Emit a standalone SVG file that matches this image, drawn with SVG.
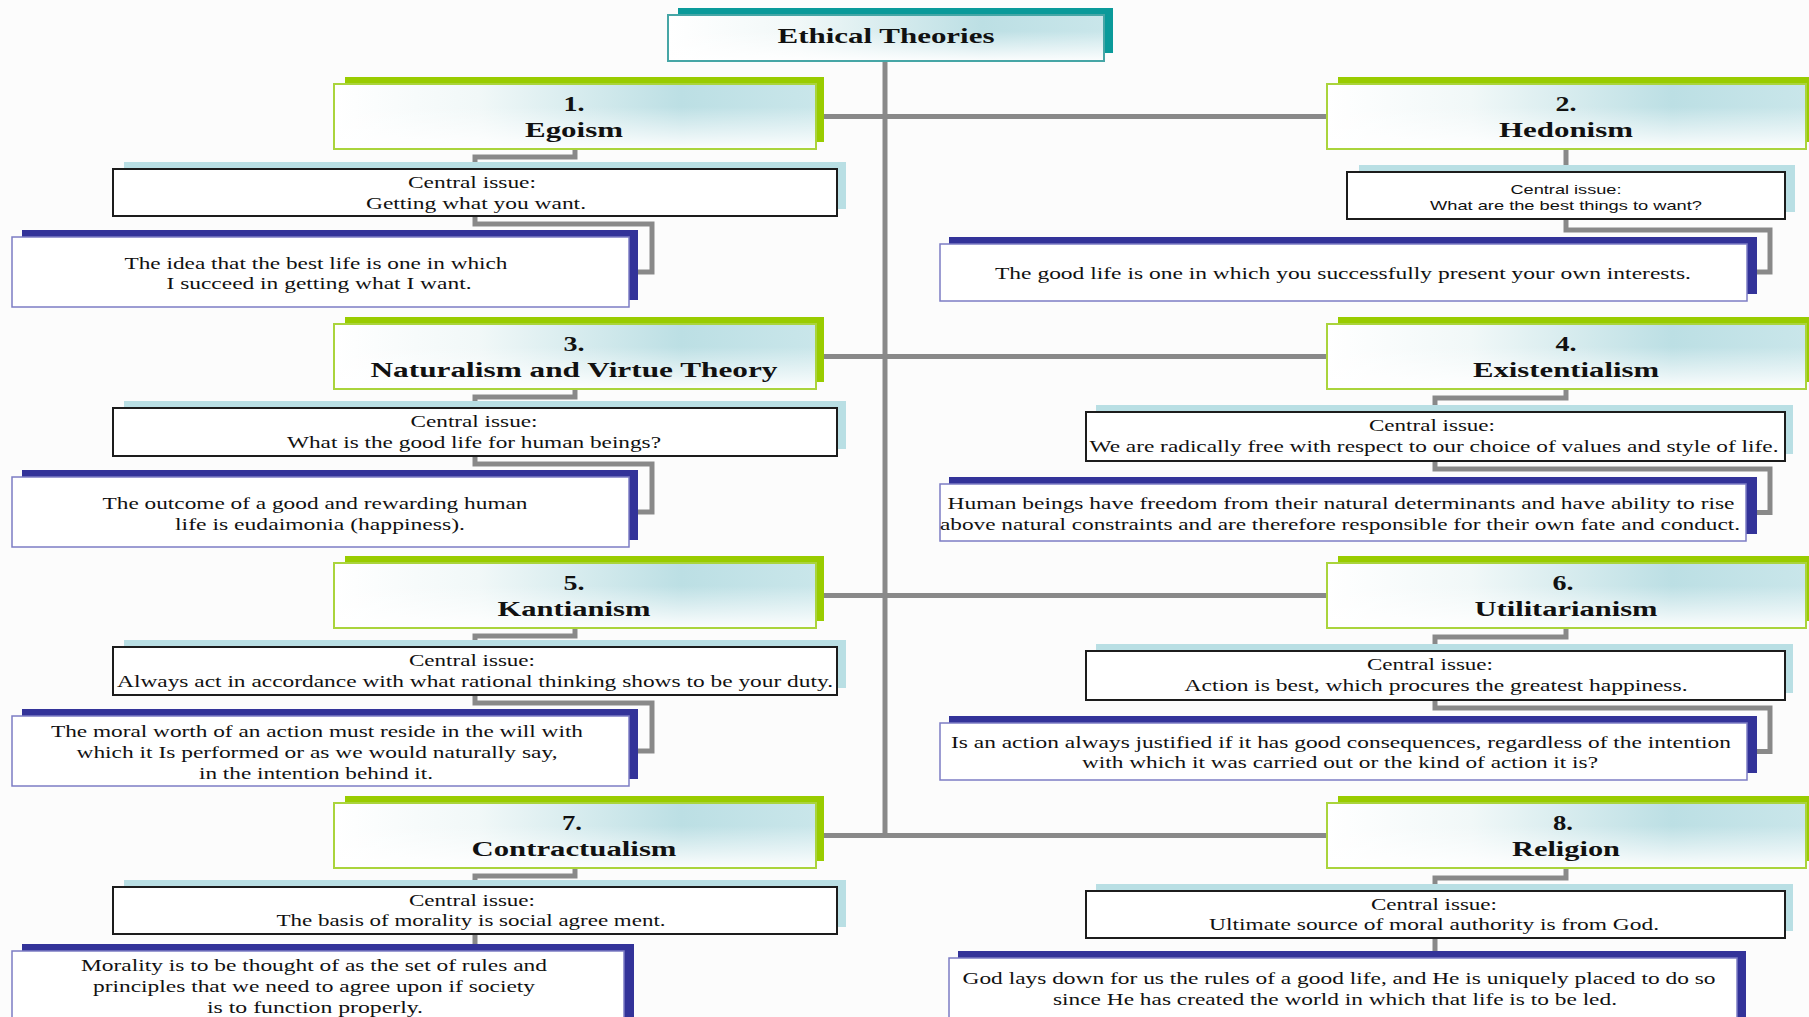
<svg xmlns="http://www.w3.org/2000/svg" width="1809" height="1017" viewBox="0 0 1809 1017">
  <defs>
    <linearGradient id="glaze" x1="0" y1="0" x2="1" y2="0">
      <stop offset="0" stop-color="#ffffff"/>
      <stop offset="0.3" stop-color="#f1f8f8"/>
      <stop offset="0.72" stop-color="#bcdfe4"/>
      <stop offset="1" stop-color="#c9e6ea"/>
    </linearGradient>
    <linearGradient id="fade" x1="0" y1="0" x2="0" y2="1">
      <stop offset="0.35" stop-color="#ffffff" stop-opacity="0"/>
      <stop offset="1" stop-color="#ffffff" stop-opacity="0.95"/>
    </linearGradient>
    <style>
      .bg { fill: #fcfcfc; }
      .wire { fill: none; stroke: #898989; stroke-width: 5; stroke-linejoin: miter; }
      .title-back { fill: #0a9a9a; }
      .title-edge { fill: none; stroke: #46a6a6; stroke-width: 2; }
      .hd-back { fill: #99cc00; }
      .hd-edge { fill: none; stroke: #aad43c; stroke-width: 2; }
      .glaze { fill: url(#glaze); }
      .fade { fill: url(#fade); }
      .ci-back { fill: #b9dfe4; }
      .ci { fill: #ffffff; stroke: #1c1c1c; stroke-width: 2; }
      .dt-back { fill: #333399; }
      .dt { fill: #ffffff; stroke: #7c7cc4; stroke-width: 1.5; }
      text { font-family: "Liberation Serif", "Times New Roman", serif; fill: #111111; text-anchor: middle; }
      .t-title { font-size: 21px; font-weight: bold; }
      .t-hd { font-size: 20px; font-weight: bold; }
      .t-num { font-size: 21px; font-weight: bold; }
      .t-ci { font-size: 16px; }
      .t-ci-sans { font-family: "Liberation Sans", Arial, sans-serif; font-size: 13px; }
      .t-dt { font-size: 17px; }
    </style>
  </defs>

  <rect class="bg" x="0" y="0" width="1809" height="1017"/>

  <!-- connectors: trunk, branches and elbows -->
  <g id="connectors">
    <path class="wire" d="M885,61 V836"/>
    <path class="wire" d="M816,116.5 H1327"/>
    <path class="wire" d="M816,356.5 H1327"/>
    <path class="wire" d="M816,595.5 H1327"/>
    <path class="wire" d="M816,835.5 H1327"/>
    <!-- left column -->
    <path class="wire" d="M575,149 V157 H475 V169"/>
    <path class="wire" d="M475,216 V224 H652 V272 H638"/>
    <path class="wire" d="M575,389 V397 H475 V408"/>
    <path class="wire" d="M475,456 V464 H652 V512 H638"/>
    <path class="wire" d="M575,628 V636 H475 V647"/>
    <path class="wire" d="M475,695 V703 H652 V751 H638"/>
    <path class="wire" d="M575,868 V876 H475 V887"/>
    <path class="wire" d="M475,934 V945"/>
    <!-- right column -->
    <path class="wire" d="M1566,149 V172"/>
    <path class="wire" d="M1566,219 V230 H1770 V272 H1757"/>
    <path class="wire" d="M1566,389 V398 H1435 V412"/>
    <path class="wire" d="M1435,461 V469 H1770 V512.5 H1757"/>
    <path class="wire" d="M1566,628 V637 H1435 V651"/>
    <path class="wire" d="M1435,700 V708 H1770 V751.5 H1757"/>
    <path class="wire" d="M1566,868 V878 H1435 V891"/>
    <path class="wire" d="M1435,938 V952"/>
  </g>

  <!-- root -->
  <g id="node-title">
    <rect class="title-back" x="678" y="8" width="435" height="45"/>
    <rect class="glaze" x="668" y="15" width="436" height="46"/>
    <rect class="fade" x="668" y="15" width="436" height="46"/>
    <rect class="title-edge" x="668" y="15" width="436" height="46"/>
    <text class="t-title" x="886" y="43" textLength="217" lengthAdjust="spacingAndGlyphs">Ethical Theories</text>
  </g>

  <!-- 1. Egoism -->
  <g id="node-egoism">
    <rect class="hd-back" x="345" y="77" width="479" height="65"/>
    <rect class="glaze" x="334" y="84" width="482" height="65"/>
    <rect class="fade" x="334" y="84" width="482" height="65"/>
    <rect class="hd-edge" x="334" y="84" width="482" height="65"/>
    <text class="t-num" x="574" y="111" textLength="21" lengthAdjust="spacingAndGlyphs">1.</text>
    <text class="t-hd" x="574" y="137" textLength="98" lengthAdjust="spacingAndGlyphs">Egoism</text>
  </g>
  <g id="issue-egoism">
    <rect class="ci-back" x="124" y="162" width="722" height="47"/>
    <rect class="ci" x="113" y="169" width="724" height="47"/>
    <text class="t-ci" x="472" y="188" textLength="128" lengthAdjust="spacingAndGlyphs">Central issue:</text>
    <text class="t-ci" x="476" y="209" textLength="220" lengthAdjust="spacingAndGlyphs">Getting what you want.</text>
  </g>
  <g id="detail-egoism">
    <rect class="dt-back" x="22" y="230" width="616" height="70"/>
    <rect class="dt" x="12" y="237" width="617" height="70"/>
    <text class="t-dt" x="316" y="269" textLength="383" lengthAdjust="spacingAndGlyphs">The idea that the best life is one in which</text>
    <text class="t-dt" x="319" y="289" textLength="305" lengthAdjust="spacingAndGlyphs">I succeed in getting what I want.</text>
  </g>

  <!-- 2. Hedonism -->
  <g id="node-hedonism">
    <rect class="hd-back" x="1338" y="77" width="480" height="65"/>
    <rect class="glaze" x="1327" y="84" width="479" height="65"/>
    <rect class="fade" x="1327" y="84" width="479" height="65"/>
    <rect class="hd-edge" x="1327" y="84" width="479" height="65"/>
    <text class="t-num" x="1566" y="111" textLength="21" lengthAdjust="spacingAndGlyphs">2.</text>
    <text class="t-hd" x="1566" y="137" textLength="134" lengthAdjust="spacingAndGlyphs">Hedonism</text>
  </g>
  <g id="issue-hedonism">
    <rect class="ci-back" x="1359" y="165" width="436" height="47"/>
    <rect class="ci" x="1347" y="172" width="438" height="47"/>
    <text class="t-ci-sans" x="1566" y="194" textLength="111" lengthAdjust="spacingAndGlyphs">Central issue:</text>
    <text class="t-ci-sans" x="1566" y="210" textLength="272" lengthAdjust="spacingAndGlyphs">What are the best things to want?</text>
  </g>
  <g id="detail-hedonism">
    <rect class="dt-back" x="949" y="237" width="808" height="57"/>
    <rect class="dt" x="940" y="244" width="807" height="57"/>
    <text class="t-dt" x="1343" y="279" textLength="696" lengthAdjust="spacingAndGlyphs">The good life is one in which you successfully present your own interests.</text>
  </g>

  <!-- 3. Naturalism and Virtue Theory -->
  <g id="node-naturalism">
    <rect class="hd-back" x="345" y="317" width="479" height="65"/>
    <rect class="glaze" x="334" y="324" width="482" height="65"/>
    <rect class="fade" x="334" y="324" width="482" height="65"/>
    <rect class="hd-edge" x="334" y="324" width="482" height="65"/>
    <text class="t-num" x="574" y="351" textLength="21" lengthAdjust="spacingAndGlyphs">3.</text>
    <text class="t-hd" x="574" y="377" textLength="407" lengthAdjust="spacingAndGlyphs">Naturalism and Virtue Theory</text>
  </g>
  <g id="issue-naturalism">
    <rect class="ci-back" x="124" y="401" width="722" height="48"/>
    <rect class="ci" x="113" y="408" width="724" height="48"/>
    <text class="t-ci" x="474" y="427" textLength="127" lengthAdjust="spacingAndGlyphs">Central issue:</text>
    <text class="t-ci" x="474" y="448" textLength="374" lengthAdjust="spacingAndGlyphs">What is the good life for human beings?</text>
  </g>
  <g id="detail-naturalism">
    <rect class="dt-back" x="22" y="470" width="616" height="70"/>
    <rect class="dt" x="12" y="477" width="617" height="70"/>
    <text class="t-dt" x="315" y="509" textLength="425" lengthAdjust="spacingAndGlyphs">The outcome of a good and rewarding human</text>
    <text class="t-dt" x="320" y="530" textLength="290" lengthAdjust="spacingAndGlyphs">life is eudaimonia (happiness).</text>
  </g>

  <!-- 4. Existentialism -->
  <g id="node-existentialism">
    <rect class="hd-back" x="1338" y="317" width="480" height="65"/>
    <rect class="glaze" x="1327" y="324" width="479" height="65"/>
    <rect class="fade" x="1327" y="324" width="479" height="65"/>
    <rect class="hd-edge" x="1327" y="324" width="479" height="65"/>
    <text class="t-num" x="1566" y="351" textLength="21" lengthAdjust="spacingAndGlyphs">4.</text>
    <text class="t-hd" x="1566" y="377" textLength="186" lengthAdjust="spacingAndGlyphs">Existentialism</text>
  </g>
  <g id="issue-existentialism">
    <rect class="ci-back" x="1096" y="405" width="697" height="49"/>
    <rect class="ci" x="1086" y="412" width="699" height="49"/>
    <text class="t-ci" x="1432" y="431" textLength="126" lengthAdjust="spacingAndGlyphs">Central issue:</text>
    <text class="t-ci" x="1434" y="452" textLength="689" lengthAdjust="spacingAndGlyphs">We are radically free with respect to our choice of values and style of life.</text>
  </g>
  <g id="detail-existentialism">
    <rect class="dt-back" x="949" y="477" width="808" height="57"/>
    <rect class="dt" x="940" y="484" width="806" height="57"/>
    <text class="t-dt" x="1341" y="509" textLength="787" lengthAdjust="spacingAndGlyphs">Human beings have freedom from their natural determinants and have ability to rise</text>
    <text class="t-dt" x="1340" y="530" textLength="800" lengthAdjust="spacingAndGlyphs">above natural constraints and are therefore responsible for their own fate and conduct.</text>
  </g>

  <!-- 5. Kantianism -->
  <g id="node-kantianism">
    <rect class="hd-back" x="345" y="556" width="479" height="65"/>
    <rect class="glaze" x="334" y="563" width="482" height="65"/>
    <rect class="fade" x="334" y="563" width="482" height="65"/>
    <rect class="hd-edge" x="334" y="563" width="482" height="65"/>
    <text class="t-num" x="574" y="590" textLength="21" lengthAdjust="spacingAndGlyphs">5.</text>
    <text class="t-hd" x="574" y="616" textLength="153" lengthAdjust="spacingAndGlyphs">Kantianism</text>
  </g>
  <g id="issue-kantianism">
    <rect class="ci-back" x="124" y="640" width="722" height="48"/>
    <rect class="ci" x="113" y="647" width="724" height="48"/>
    <text class="t-ci" x="472" y="666" textLength="126" lengthAdjust="spacingAndGlyphs">Central issue:</text>
    <text class="t-ci" x="475" y="687" textLength="716" lengthAdjust="spacingAndGlyphs">Always act in accordance with what rational thinking shows to be your duty.</text>
  </g>
  <g id="detail-kantianism">
    <rect class="dt-back" x="22" y="709" width="616" height="70"/>
    <rect class="dt" x="12" y="716" width="617" height="70"/>
    <text class="t-dt" x="317" y="737" textLength="532" lengthAdjust="spacingAndGlyphs">The moral worth of an action must reside in the will with</text>
    <text class="t-dt" x="317" y="758" textLength="481" lengthAdjust="spacingAndGlyphs">which it Is performed or as we would naturally say,</text>
    <text class="t-dt" x="316" y="779" textLength="234" lengthAdjust="spacingAndGlyphs">in the intention behind it.</text>
  </g>

  <!-- 6. Utilitarianism -->
  <g id="node-utilitarianism">
    <rect class="hd-back" x="1338" y="556" width="480" height="65"/>
    <rect class="glaze" x="1327" y="563" width="479" height="65"/>
    <rect class="fade" x="1327" y="563" width="479" height="65"/>
    <rect class="hd-edge" x="1327" y="563" width="479" height="65"/>
    <text class="t-num" x="1563" y="590" textLength="21" lengthAdjust="spacingAndGlyphs">6.</text>
    <text class="t-hd" x="1566" y="616" textLength="183" lengthAdjust="spacingAndGlyphs">Utilitarianism</text>
  </g>
  <g id="issue-utilitarianism">
    <rect class="ci-back" x="1096" y="644" width="697" height="49"/>
    <rect class="ci" x="1086" y="651" width="699" height="49"/>
    <text class="t-ci" x="1430" y="670" textLength="126" lengthAdjust="spacingAndGlyphs">Central issue:</text>
    <text class="t-ci" x="1436" y="691" textLength="503" lengthAdjust="spacingAndGlyphs">Action is best, which procures the greatest happiness.</text>
  </g>
  <g id="detail-utilitarianism">
    <rect class="dt-back" x="949" y="716" width="808" height="57"/>
    <rect class="dt" x="940" y="723" width="807" height="57"/>
    <text class="t-dt" x="1341" y="748" textLength="780" lengthAdjust="spacingAndGlyphs">Is an action always justified if it has good consequences, regardless of the intention</text>
    <text class="t-dt" x="1340" y="768" textLength="516" lengthAdjust="spacingAndGlyphs">with which it was carried out or the kind of action it is?</text>
  </g>

  <!-- 7. Contractualism -->
  <g id="node-contractualism">
    <rect class="hd-back" x="345" y="796" width="479" height="65"/>
    <rect class="glaze" x="334" y="803" width="482" height="65"/>
    <rect class="fade" x="334" y="803" width="482" height="65"/>
    <rect class="hd-edge" x="334" y="803" width="482" height="65"/>
    <text class="t-num" x="572" y="830" textLength="20" lengthAdjust="spacingAndGlyphs">7.</text>
    <text class="t-hd" x="574" y="856" textLength="205" lengthAdjust="spacingAndGlyphs">Contractualism</text>
  </g>
  <g id="issue-contractualism">
    <rect class="ci-back" x="124" y="880" width="722" height="47"/>
    <rect class="ci" x="113" y="887" width="724" height="47"/>
    <text class="t-ci" x="472" y="906" textLength="126" lengthAdjust="spacingAndGlyphs">Central issue:</text>
    <text class="t-ci" x="471" y="926" textLength="389" lengthAdjust="spacingAndGlyphs">The basis of morality is social agree ment.</text>
  </g>
  <g id="detail-contractualism">
    <rect class="dt-back" x="22" y="944" width="612" height="80"/>
    <rect class="dt" x="12" y="951" width="612" height="80"/>
    <text class="t-dt" x="314" y="971" textLength="466" lengthAdjust="spacingAndGlyphs">Morality is to be thought of as the set of rules and</text>
    <text class="t-dt" x="314" y="992" textLength="442" lengthAdjust="spacingAndGlyphs">principles that we need to agree upon if society</text>
    <text class="t-dt" x="315" y="1013" textLength="216" lengthAdjust="spacingAndGlyphs">is to function properly.</text>
  </g>

  <!-- 8. Religion -->
  <g id="node-religion">
    <rect class="hd-back" x="1338" y="796" width="480" height="65"/>
    <rect class="glaze" x="1327" y="803" width="479" height="65"/>
    <rect class="fade" x="1327" y="803" width="479" height="65"/>
    <rect class="hd-edge" x="1327" y="803" width="479" height="65"/>
    <text class="t-num" x="1563" y="830" textLength="20" lengthAdjust="spacingAndGlyphs">8.</text>
    <text class="t-hd" x="1566" y="856" textLength="108" lengthAdjust="spacingAndGlyphs">Religion</text>
  </g>
  <g id="issue-religion">
    <rect class="ci-back" x="1096" y="884" width="697" height="47"/>
    <rect class="ci" x="1086" y="891" width="699" height="47"/>
    <text class="t-ci" x="1434" y="910" textLength="126" lengthAdjust="spacingAndGlyphs">Central issue:</text>
    <text class="t-ci" x="1434" y="930" textLength="450" lengthAdjust="spacingAndGlyphs">Ultimate source of moral authority is from God.</text>
  </g>
  <g id="detail-religion">
    <rect class="dt-back" x="958" y="951" width="788" height="70"/>
    <rect class="dt" x="949" y="958" width="788" height="70"/>
    <text class="t-dt" x="1339" y="984" textLength="753" lengthAdjust="spacingAndGlyphs">God lays down for us the rules of a good life, and He is uniquely placed to do so</text>
    <text class="t-dt" x="1335" y="1005" textLength="564" lengthAdjust="spacingAndGlyphs">since He has created the world in which that life is to be led.</text>
  </g>
</svg>
